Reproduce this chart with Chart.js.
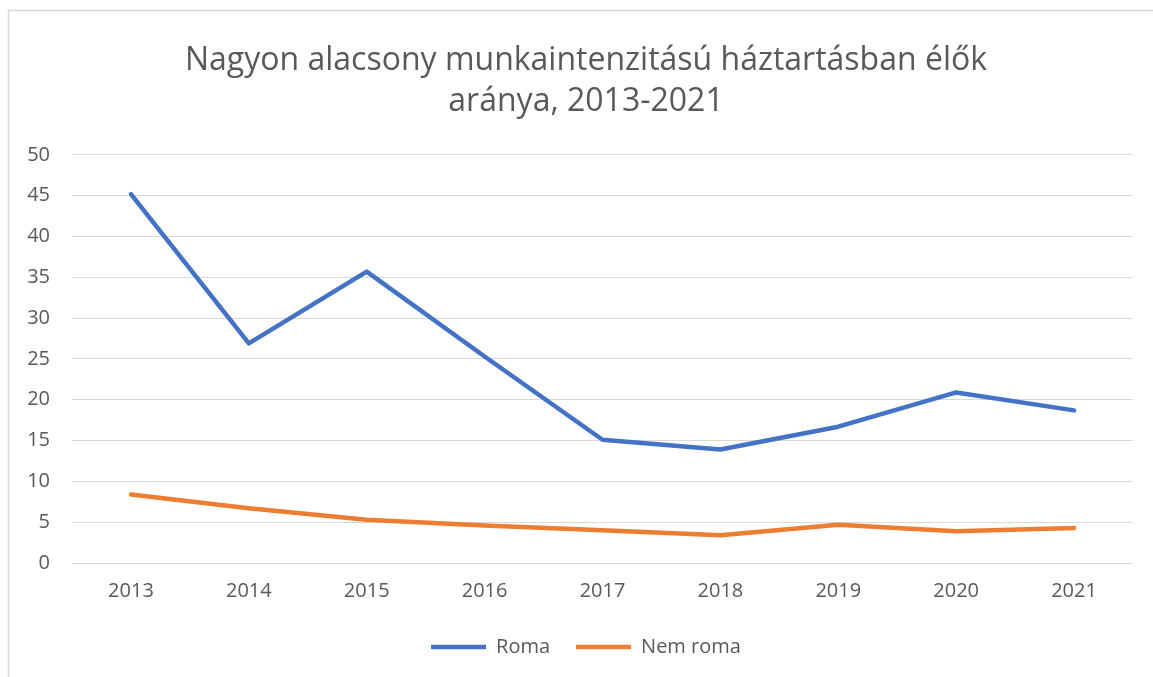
<!DOCTYPE html>
<html>
<head>
<meta charset="utf-8">
<script src="https://cdn.jsdelivr.net/npm/chart.js@4/dist/chart.umd.min.js"></script>
<style>
html,body{margin:0;padding:0;background:#fff;}
canvas{display:block;}
</style>
</head>
<body>
<canvas id="c" width="1153" height="677"></canvas>
<script>
const years = ['2013','2014','2015','2016','2017','2018','2019','2020','2021'];
const roma = [45.2, 26.9, 35.7, 25.3, 15.1, 13.9, 16.7, 20.9, 18.7];
const nemRoma = [8.4, 6.7, 5.3, 4.6, 4.0, 3.4, 4.7, 3.9, 4.3];
const titleLines = ['Nagyon alacsony munkaintenzitású háztartásban élők', 'aránya, 2013-2021'];

const FONT = '"Open Sans", Lato, sans-serif';
const TXT = '#595959';

const frame = {
  id: 'frame',
  beforeDraw(chart) {
    const ctx = chart.ctx;
    ctx.save();
    ctx.fillStyle = '#fff';
    ctx.fillRect(0, 0, chart.width, chart.height);
    ctx.strokeStyle = '#d9d9d9';
    ctx.lineWidth = 1.5;
    ctx.beginPath();
    ctx.moveTo(8.5, chart.height + 2);
    ctx.lineTo(8.5, 10.5);
    ctx.lineTo(chart.width + 2, 10.5);
    ctx.stroke();
    ctx.restore();
  }
};

new Chart(document.getElementById('c'), {
  type: 'line',
  data: {
    labels: years,
    datasets: [
      { label: 'Roma', data: roma, borderColor: '#4472C4', backgroundColor: '#4472C4',
        borderWidth: 4.5, pointRadius: 0, tension: 0, borderCapStyle: 'round', borderJoinStyle: 'round' },
      { label: 'Nem roma', data: nemRoma, borderColor: '#ED7D31', backgroundColor: '#ED7D31',
        borderWidth: 4.5, pointRadius: 0, tension: 0, borderCapStyle: 'round', borderJoinStyle: 'round' }
    ]
  },
  options: {
    responsive: false,
    animation: false,
    layout: { padding: { left: 39, right: 20, top: 10, bottom: 10 } },
    plugins: {
      title: {
        display: true, text: titleLines, color: TXT,
        font: { family: FONT, size: 32, weight: '400', lineHeight: 1.28 },
        padding: { top: 30, bottom: 33 }
      },
      legend: {
        position: 'bottom',
        labels: {
          usePointStyle: true, pointStyle: 'line', pointStyleWidth: 55,
          color: TXT, font: { family: FONT, size: 20 }, padding: 26
        }
      },
      tooltip: { enabled: false }
    },
    scales: {
      x: {
        offset: true,
        grid: { display: false },
        border: { display: false },
        ticks: { color: TXT, font: { family: FONT, size: 20 }, padding: 8 }
      },
      y: {
        min: 0, max: 50,
        afterFit(s) { s.width = 33; s._computeLabelArea = () => null; },
        grid: { color: '#d9d9d9', lineWidth: 1, drawTicks: false },
        border: { display: false },
        ticks: { stepSize: 5, color: TXT, font: { family: FONT, size: 20 }, padding: 22 }
      }
    }
  },
  plugins: [frame]
});
</script>
</body>
</html>
